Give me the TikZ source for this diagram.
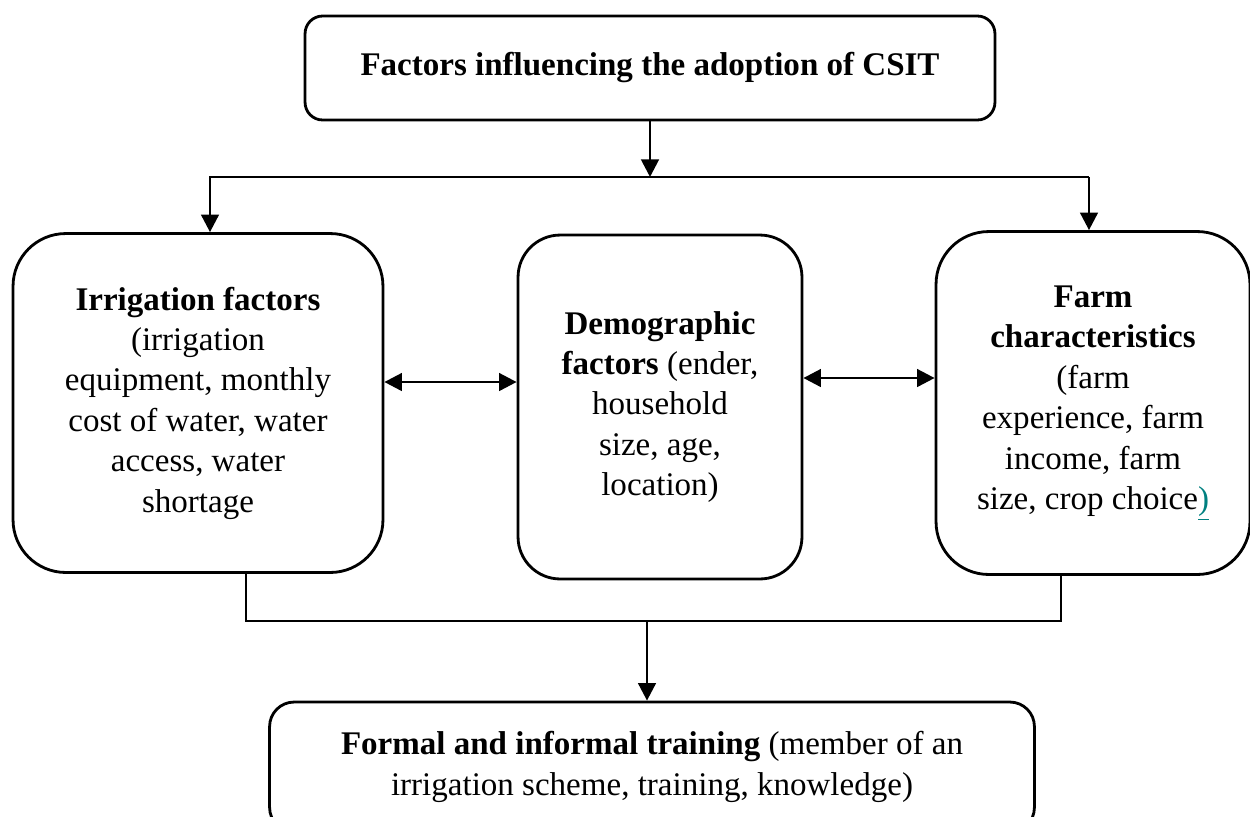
\documentclass[tikz,border=0pt]{standalone}
\usepackage{fontspec}
\setmainfont{Liberation Serif}
\usetikzlibrary{arrows.meta}
\definecolor{linkteal}{RGB}{0,128,128}

\begin{document}
\begin{tikzpicture}[x=0.02cm, y=-0.02cm,
    factor/.style={draw, line width=1.6pt, align=center, inner sep=0pt,
        font=\fontsize{18.8}{23}\selectfont},
    arrowline/.style={line width=1.6pt, -{Triangle[length=10pt,width=10pt]}},
    botharrow/.style={line width=1.6pt,
        {Triangle[length=10pt,width=10pt]}-{Triangle[length=10pt,width=10pt]}},
    thinline/.style={line width=0.7pt}]
    \useasboundingbox (0,0) rectangle (1250,816);
    % Top box
    \node[factor, rounded corners=10pt, minimum width=13.8cm, minimum height=2.08cm]
    (csit) at (650,68) {\textbf{Factors influencing the adoption of CSIT}};
    % Middle row
    \node[factor, rounded corners=30pt, minimum width=7.4cm, minimum height=6.78cm]
    (irrig) at (198,403) {\textbf{Irrigation factors}\\(irrigation\\equipment, monthly\\
        cost of water, water\\access, water\\shortage};
    \node[factor, rounded corners=24pt, minimum width=5.68cm, minimum height=6.88cm]
    (demo) at (660,407) {\textbf{Demographic}\\\textbf{factors} (ender,\\household\\
        size, age,\\location)};
    \node[factor, rounded corners=30pt, minimum width=6.28cm, minimum height=6.86cm]
    (farm) at (1093,403) {\textbf{Farm}\\\textbf{characteristics}\\(farm\\experience, farm\\
        income, farm\\size, crop choice\textcolor{linkteal}{\underline{)}}};
    % Bottom box
    \node[factor, rounded corners=14pt, minimum width=15.3cm, minimum height=2.6cm]
    (train) at (652,767) {\textbf{Formal and informal training} (member of an\\
        irrigation scheme, training, knowledge)};
    % Upper bar
    \coordinate (topbar) at (650,177);
    \coordinate (topbarL) at (209,177);
    \coordinate (topbarR) at (1089,177);
    \draw[arrowline] (csit) -- (topbar);
    \draw[thinline] (topbarL) -- (topbarR);
    \foreach \x/\tgt in {210/irrig,1089/farm} {
        \draw[arrowline] (\x,177) -- (\x,177 |- \tgt.north);
    }
    % Arrows between the factors
    \draw[botharrow] ([yshift=0.42cm]irrig.east) -- ([yshift=0.42cm]irrig.east -| demo.west);
    \draw[botharrow] ([yshift=0.58cm]demo.east) -- ([yshift=0.58cm]demo.east -| farm.west);
    % Lower bar
    \coordinate (lowbarL) at ([xshift=0.96cm]irrig.south |- 0,621);
    \coordinate (lowbarR) at ([xshift=-0.64cm]farm.south |- 0,621);
    \coordinate (lowbar) at (647,621);
    \draw[thinline] ([xshift=0.96cm]irrig.south) -- (lowbarL) -- (lowbarR)
        -- ([xshift=-0.64cm]farm.south);
    \draw[arrowline] (lowbar) -- (lowbar |- train.north);
\end{tikzpicture}
\end{document}
